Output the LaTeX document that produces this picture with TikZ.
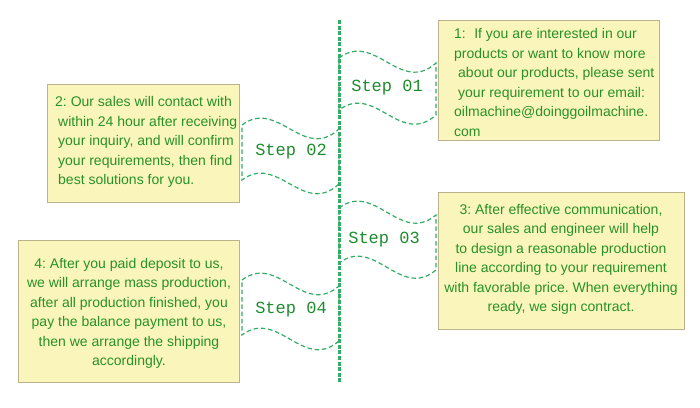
\documentclass[tikz,border=0pt]{standalone}
\usepackage{fontspec}
\setmainfont{Liberation Sans}
\newfontfamily\stepfont{Liberation Mono}
\definecolor{boxfill}{RGB}{250,245,187}
\definecolor{boxedge}{RGB}{188,178,140}
\definecolor{txtgreen}{RGB}{40,145,40}
\definecolor{flaggreen}{RGB}{52,172,100}
\definecolor{stepgreen}{RGB}{30,140,45}
\newcommand\flagpath[5]{% xL, xR, ytop, height, drop
  \draw[flagline] (#1,#3)
    .. controls ({#1+0.37*(#2-#1)},{#3-27}) and ({#1+0.63*(#2-#1)},{#3+37}) .. (#2,{#3+#5})
    -- (#2,{#3+#4+#5})
    .. controls ({#1+0.63*(#2-#1)},{#3+#4+37}) and ({#1+0.37*(#2-#1)},{#3+#4-27}) .. (#1,{#3+#4})
    -- cycle;}
\begin{document}
\frenchspacing
\begin{tikzpicture}[x=1pt,y=-1pt,
  infobox/.style={draw=boxedge,line width=0.8pt,fill=boxfill,inner sep=0pt},
  infotext/.style={text=txtgreen,font=\fontsize{14}{19.5}\selectfont,inner sep=0pt},
  steplabel/.style={text=stepgreen,font=\stepfont\fontsize{17}{18}\selectfont,inner sep=0pt},
  flagline/.style={draw=flaggreen,line width=1.2pt,dash pattern=on 4.5pt off 2.8pt},
  midline/.style={draw=flaggreen,line width=3pt,dash pattern=on 4pt off 1.6pt}]
\useasboundingbox (0,0) rectangle (700,407);
% boxes
\node[infobox,minimum width=221pt,minimum height=120pt] (b1) at (548.5,80) {};
\node[infobox,minimum width=192pt,minimum height=118pt] (b2) at (143,143) {};
\node[infobox,minimum width=246pt,minimum height=137pt] (b3) at (561,260.5) {};
\node[infobox,minimum width=221pt,minimum height=142pt] (b4) at (128.5,311) {};
% texts
\node[infotext,anchor=west,align=left] (t1) at (454,82.5) {1:\hspace{0.6em}If you are interested in our\\products or want to know more\\\hspace*{4pt}about our products, please sent\\\hspace*{4pt}your requirement to our email:\\oilmachine@doinggoilmachine.\\com};
\node[infotext,anchor=west,align=left] (t2) at (55,142) {2: Our sales will contact with\\\hspace*{3pt}within 24 hour after receiving\\\hspace*{3pt}your inquiry, and will confirm\\\hspace*{3pt}your requirements, then find\\\hspace*{3pt}best solutions for you.};
\node[infotext,align=center] (t3) at (561,259.5) {3: After effective communication,\\our sales and engineer will help\\to design a reasonable production\\line according to your requirement\\with favorable price. When everything\\ready, we sign contract.};
\node[infotext,align=center] (t4) at (129,313.5) {4: After you paid deposit to us,\\we will arrange mass production,\\after all production finished, you\\pay the balance payment to us,\\then we arrange the shipping\\accordingly.};
% flags
\flagpath{339}{436}{58}{52}{5}
\flagpath{242}{339}{125}{55}{4}
\flagpath{339}{436}{208}{55}{7}
\flagpath{242}{339}{280}{55}{6}
% centre line
\coordinate (ltop) at (339,20);
\coordinate (lbot) at (339,382);
\draw[midline] (ltop) -- (lbot);
% step labels
\node[steplabel] (s1) at (387,88) {Step 01};
\node[steplabel] (s2) at (291,152) {Step 02};
\node[steplabel] (s3) at (384,240) {Step 03};
\node[steplabel] (s4) at (291,310) {Step 04};
\end{tikzpicture}
\end{document}
